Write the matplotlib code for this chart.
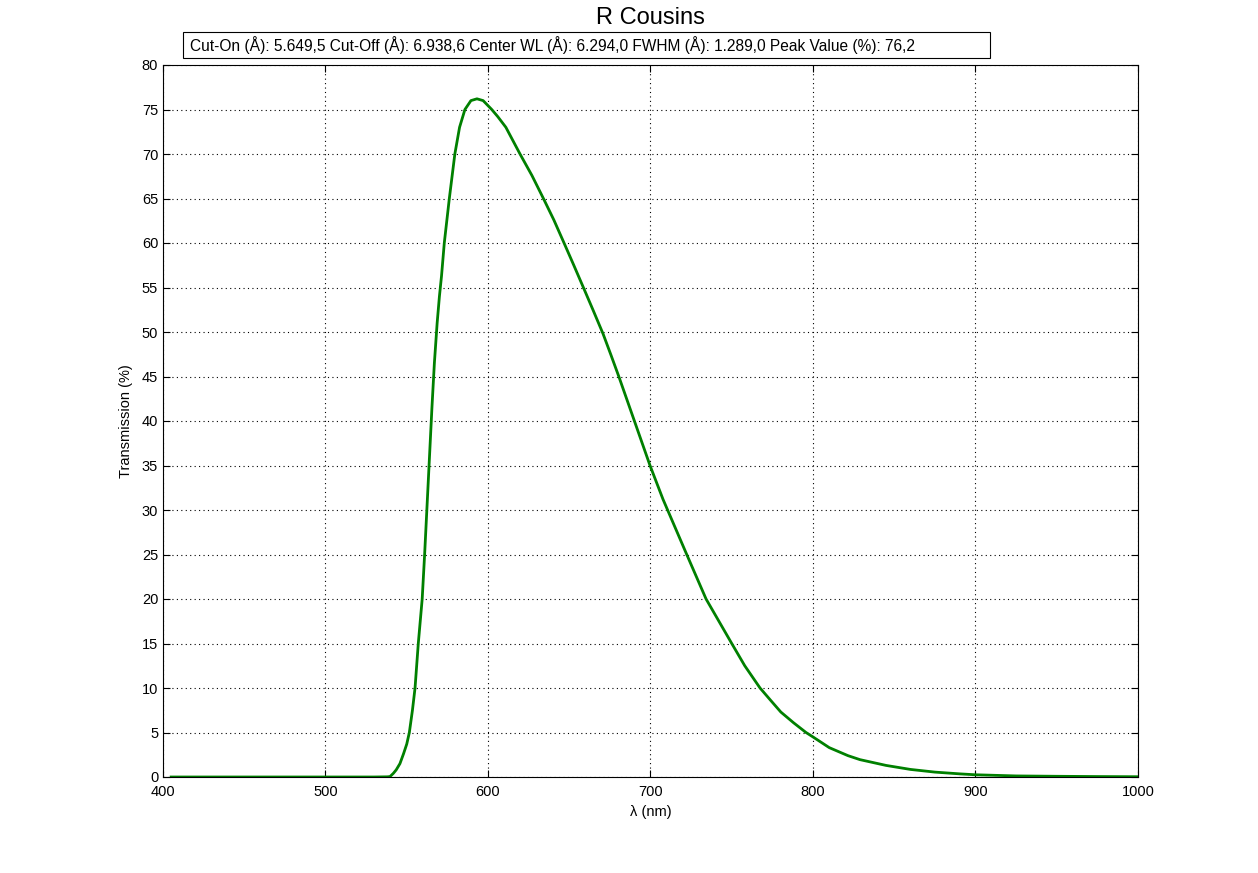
import matplotlib
matplotlib.use("Agg")
import matplotlib.pyplot as plt

plt.rcParams['font.family'] = ['Liberation Sans', 'DejaVu Sans']

wavelength = [405, 450, 500, 530, 538, 539.7, 541.7, 543.5, 545.8, 548, 550, 551.6, 553.5,
              555.1, 557.1, 559.5, 561, 562.5, 564, 565.5, 567, 568.7, 570.1, 571.4,
              573.1, 576.2, 579.6, 582.5, 585.8, 589.5, 593.2, 597, 602.3, 606, 611,
              619.7, 627, 634.1, 640.5, 646.8, 652.8, 658.7, 664.8, 670.8, 675.7, 680.5,
              690.1, 699.7, 707.7, 715, 722.3, 734.2, 750, 758, 767.4, 774, 780.2, 788,
              795.7, 800, 810, 821.5, 828.9, 845, 860, 875, 890.5, 900, 925, 950, 975, 1000]
transmission = [0, 0, 0, 0, 0.02, 0.05, 0.4, 0.8, 1.5, 2.6, 3.7, 5, 7.5,
                10, 15, 20, 25, 30.5, 36, 41.5, 46.5, 51, 54, 56.3,
                60, 65, 70, 73, 75, 76, 76.2, 76.0, 75, 74.2, 73.0,
                70, 67.6, 65, 62.6, 60, 57.5, 55, 52.4, 49.8, 47.4, 45,
                40, 35, 31.2, 28.1, 25, 20, 15, 12.5, 10, 8.6, 7.3, 6.1,
                5, 4.5, 3.3, 2.4, 1.95, 1.3, 0.85, 0.55, 0.35, 0.25, 0.12, 0.08, 0.05, 0.03]

title = "R Cousins"
info = "Cut-On (Å): 5.649,5 Cut-Off (Å): 6.938,6 Center WL (Å): 6.294,0 FWHM (Å): 1.289,0 Peak Value (%): 76,2"
xticks = [400, 500, 600, 700, 800, 900, 1000]
yticks = list(range(0, 81, 5))

fig = plt.figure(figsize=(12.58, 8.73), dpi=100)
ax = fig.add_axes([163/1258, 1-777/873, (1138-163)/1258, (777-65)/873])
ax.plot(wavelength, transmission, color=(0, 0.5, 0), linewidth=2.0)
ax.set_xlim(400, 1000)
ax.set_ylim(0, 80)
ax.set_xticks(xticks)
ax.set_yticks(yticks)
ax.grid(True, color='black', linestyle=(0, (1, 3)), linewidth=0.8)
ax.tick_params(direction='in', top=True, right=True, labelsize=10.5, length=5, width=0.8)
ax.tick_params(axis='x', pad=6)
for s in ax.spines.values():
    s.set_linewidth(0.8)
ax.set_xlabel("λ (nm)", fontsize=10.5, labelpad=4)
ax.set_ylabel("Transmission (%)", fontsize=10.5, labelpad=6)
fig.text((163+1138)/2/1258, 1-18/873, title, ha='center', va='center', fontsize=17)
fig.text(190/1258, 1-45/873, info, ha='left', va='center', fontsize=11.2)
fig.patches.append(matplotlib.patches.Rectangle((183/1258, 1-58/873), (990-183)/1258, 26/873,
                   transform=fig.transFigure, fill=False, edgecolor='black', linewidth=0.8))
fig.savefig("out.png", dpi=100)
